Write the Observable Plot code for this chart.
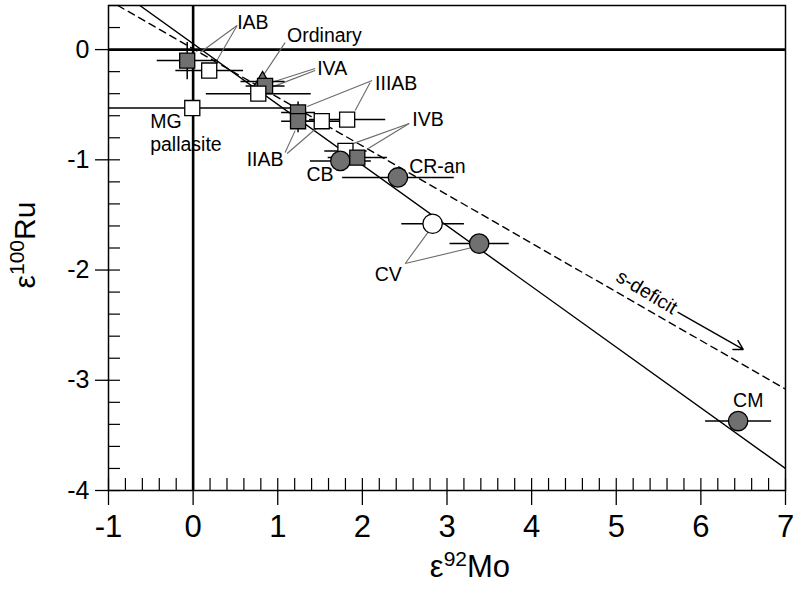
<!DOCTYPE html>
<html>
<head>
<meta charset="utf-8">
<script src="https://cdn.jsdelivr.net/npm/d3@7"></script>
<script src="https://cdn.jsdelivr.net/npm/@observablehq/plot@0.6"></script>
<style>
  html, body { margin: 0; padding: 0; background: white; }
  #chart svg { display: block; }
</style>
</head>
<body>
<div id="chart"></div>
<script>
// ---- data ----
const names    = ["Ordinary","IVA","IVA","IAB","IAB","MG pallasite","IVB","IIIAB","IIAB","IIAB","IIIAB","CB","IVB","CR-an","CV","CV","CM"];
const mo92     = [0.82, 0.85, 0.77, -0.07, 0.19, -0.01, 1.80, 1.24, 1.24, 1.52, 1.82, 1.74, 1.94, 2.42, 2.83, 3.38, 6.44];
const ru100    = [-0.29, -0.33, -0.40, -0.10, -0.19, -0.53, -0.92, -0.57, -0.65, -0.65, -0.635, -1.01, -0.98, -1.16, -1.58, -1.76, -3.37];
const mo92Err  = [0.26, 0.23, 0.62, 0.36, 0.40, 1.2, 0.25, 0.20, 0.20, 0.30, 0.45, 0.36, 0.35, 0.66, 0.37, 0.35, 0.39];
const ru100Err = [0, 0.05, 0, 0.17, 0, 0, 0, 0.1, 0.1, 0, 0, 0, 0.05, 0, 0, 0, 0];
const shapes   = ["triangle","square","square","square","square","square","square","square","square","square","square","circle","square","circle","circle","circle","circle"];
const filled   = [true, true, false, true, false, false, false, true, true, false, false, true, true, true, false, true, true];

const xTicks = [-1, 0, 1, 2, 3, 4, 5, 6, 7];
const yTicks = [0, -1, -2, -3, -4];

// mixing lines (end points)
const solidLineX  = [-0.63, 7];
const solidLineY  = [0.40, -3.80];
const dashedLineX = [-0.89, 7];
const dashedLineY = [0.40, -3.08];

// s-deficit arrow
const arrowFrom = [5.73, -2.385];
const arrowTo   = [6.50, -2.72];

// labels
const labelText   = ["IAB","Ordinary","IVA","IIIAB","IIAB","IVB","CB","CR-an","CV","CM","MG","pallasite"];
const labelX      = [0.52, 1.11, 1.466, 2.15, 0.85, 2.59, 1.50, 2.553, 2.305, 6.56, -0.508, -0.508];
const labelY      = [0.245, 0.127, -0.172, -0.308, -0.998, -0.635, -1.134, -1.061, -2.041, -3.184, -0.655, -0.865];
const labelAnchor = ["start","start","start","start","middle","start","middle","start","middle","middle","start","start"];

// leader lines
const leadX1 = [0.52, 0.52, 1.087, 1.442, 1.442, 2.116, 2.092, 1.087, 1.111, 2.553, 2.553, 2.506, 2.506];
const leadY1 = [0.218, 0.218, 0.063, -0.172, -0.19, -0.281, -0.299, -0.934, -0.943, -0.671, -0.671, -1.941, -1.941];
const leadX2 = [0.083, 0.26, 0.827, 0.887, 0.946, 1.348, 1.915, 1.206, 1.466, 1.891, 2.069, 2.79, 3.298];
const leadY2 = [-0.027, -0.127, -0.236, -0.308, -0.336, -0.517, -0.553, -0.735, -0.707, -0.853, -0.898, -1.642, -1.796];

// ---- build tables ----
const points = names.map((n, i) => ({name: n, x: mo92[i], y: ru100[i], ex: mo92Err[i], ey: ru100Err[i], shape: shapes[i], filled: filled[i]}));
const labels = labelText.map((t, i) => ({t, x: labelX[i], y: labelY[i], a: labelAnchor[i]}));
const leaders = leadX1.map((v, i) => ({x1: v, y1: leadY1[i], x2: leadX2[i], y2: leadY2[i]}));
const solidLine = solidLineX.map((v, i) => ({x: v, y: solidLineY[i]}));
const dashedLine = dashedLineX.map((v, i) => ({x: v, y: dashedLineY[i]}));
const xMinor = d3.range(-50, 351, 10).map(v => v / 50);
const yMinor = d3.range(-20, 3, 1).map(v => v / 5);

const GREY = "#707070";
const font = "'Liberation Sans', Arial, sans-serif";

const dotOpts = (sym, r) => ({
  x: "x", y: "y", symbol: sym, r,
  fill: d => d.filled ? GREY : "white", stroke: "black", strokeWidth: 1.3
});
const labelMark = (anchor) => Plot.text(labels.filter(d => d.a === anchor), {
  x: "x", y: "y", text: "t", textAnchor: anchor, fontSize: 19.5, fill: "black"
});

const chart = Plot.plot({
  width: 800, height: 589,
  marginLeft: 108, marginRight: 15, marginTop: 5, marginBottom: 99,
  x: {domain: [-1, 7]},
  y: {domain: [-4, 0.4]},
  style: {fontFamily: font, background: "white", color: "black"},
  marks: [
    // inward minor ticks
    Plot.ruleX(xMinor, {stroke: "black", strokeWidth: 1.2, insetTop: 473}),
    Plot.ruleY(yMinor, {stroke: "black", strokeWidth: 1.2, insetRight: 665}),
    // axes
    Plot.axisX(xTicks, {tickSize: 15, tickPadding: 9, fontSize: 31, tickFormat: d => String(d), label: null, strokeWidth: 1.3}),
    Plot.axisY(yTicks, {tickSize: 13, tickPadding: 6, fontSize: 25, tickFormat: d => String(d), label: null, strokeWidth: 1.3}),
    // zero lines
    Plot.ruleY([0], {stroke: "black", strokeWidth: 2.6}),
    Plot.ruleX([0], {stroke: "black", strokeWidth: 2.6}),
    // mixing lines
    Plot.line(dashedLine, {x: "x", y: "y", stroke: "black", strokeWidth: 1.4, strokeDasharray: "7,5", clip: true}),
    Plot.line(solidLine, {x: "x", y: "y", stroke: "black", strokeWidth: 1.4, clip: true}),
    // leader lines
    Plot.link(leaders, {x1: "x1", y1: "y1", x2: "x2", y2: "y2", stroke: "#6a6a6a", strokeWidth: 1.1}),
    // error bars
    Plot.link(points, {x1: d => d.x - d.ex, x2: d => d.x + d.ex, y1: "y", y2: "y", stroke: "black", strokeWidth: 1.5, clip: true}),
    Plot.link(points.filter(d => d.ey > 0), {x1: "x", x2: "x", y1: d => d.y - d.ey, y2: d => d.y + d.ey, stroke: "black", strokeWidth: 1.5}),
    // points (in draw order)
    Plot.dot(points.filter(d => d.shape === "triangle"), dotOpts("triangle", 6.5)),
    Plot.dot(points.filter(d => d.shape === "square" && d.x < 1.7), dotOpts("square", 8.5)),
    Plot.dot(points.filter(d => d.name === "IVB" && !d.filled), dotOpts("square", 8.5)),
    Plot.dot(points.filter(d => d.name === "CB"), dotOpts("circle", 9.7)),
    Plot.dot(points.filter(d => d.shape === "square" && d.x >= 1.7 && !(d.name === "IVB" && !d.filled)), dotOpts("square", 8.5)),
    Plot.dot(points.filter(d => d.shape === "circle" && d.name !== "CB"), dotOpts("circle", 9.7)),
    // arrow and its label
    Plot.arrow([0], {x1: () => arrowFrom[0], y1: () => arrowFrom[1], x2: () => arrowTo[0], y2: () => arrowTo[1], stroke: "black", strokeWidth: 1.4, headLength: 11}),
    Plot.text(["s-deficit"], {x: () => 5.36, y: () => -2.20, text: d => d, rotate: 31, fontSize: 19.5, fill: "black"}),
    // labels
    labelMark("start"),
    labelMark("middle"),
    Plot.frame({stroke: "black", strokeWidth: 1.5})
  ]
});

document.getElementById("chart").appendChild(chart);

// axis titles with superscripts
const svg = d3.select(chart);
const xt = svg.append("text").attr("x", 470).attr("y", 577).attr("text-anchor", "middle")
  .attr("font-family", font).attr("font-size", 31).attr("fill", "black");
xt.append("tspan").text("ε");
xt.append("tspan").attr("dy", -11).attr("font-size", 21).text("92");
xt.append("tspan").attr("dy", 11).text("Mo");

const yt = svg.append("text").attr("transform", "translate(35,245) rotate(-90)").attr("text-anchor", "middle")
  .attr("font-family", font).attr("font-size", 30).attr("fill", "black");
yt.append("tspan").text("ε");
yt.append("tspan").attr("dy", -11).attr("font-size", 21).text("100");
yt.append("tspan").attr("dy", 11).text("Ru");
</script>
</body>
</html>
